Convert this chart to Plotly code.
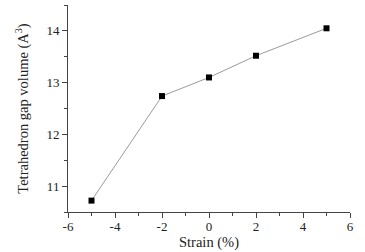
import plotly.graph_objects as go

strain = [-5, -2, 0, 2, 5]
gap_volume = [10.72, 12.74, 13.10, 13.52, 14.05]
x_ticks = [-6, -4, -2, 0, 2, 4, 6]
x_labels = ["-6", "-4", "-2", "0", "2", "4", "6"]

fig = go.Figure()
fig.add_trace(go.Scatter(x=strain, y=gap_volume, mode="lines+markers",
                         line=dict(color="#9a9a9a", width=1),
                         marker=dict(symbol="square", size=6, color="black")))

axis_style = dict(showline=True, linecolor="#444", linewidth=1, ticks="outside",
                  ticklen=5, tickcolor="#444", showgrid=False, zeroline=False,
                  automargin=False,
                  tickfont=dict(family="Liberation Serif", size=13, color="#222"),
                  title_font=dict(family="Liberation Serif", size=14.5, color="#222"))

fig.update_xaxes(range=[-6, 6], tickvals=x_ticks, ticktext=x_labels,
                 ticklabelstandoff=-3,
                 title_text="Strain (%)", title_standoff=4,
                 minor=dict(dtick=1, ticks="outside", ticklen=3, tickcolor="#444"),
                 **axis_style)
fig.update_yaxes(range=[10.5, 14.5], dtick=1, title_text="Tetrahedron gap volume (A<sup>3</sup>)",
                 title_standoff=14,
                 minor=dict(dtick=0.5, ticks="outside", ticklen=3, tickcolor="#444"),
                 **axis_style)

fig.update_layout(width=365, height=252, showlegend=False,
                  margin=dict(l=68, r=15, t=5, b=40),
                  plot_bgcolor="white", paper_bgcolor="white")

fig.write_html("out.html", config={"displayModeBar": False},
               post_script="document.body.style.margin='0';")
